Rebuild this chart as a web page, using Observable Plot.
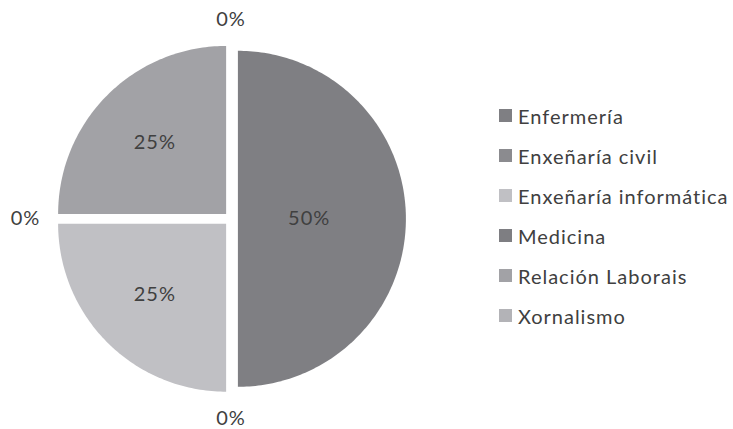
<!DOCTYPE html>
<html>
<head>
<meta charset="utf-8">
<script src="https://cdn.jsdelivr.net/npm/d3@7"></script>
<script src="https://cdn.jsdelivr.net/npm/@observablehq/plot@0.6"></script>
<style>
  html, body { margin: 0; padding: 0; background: #fff; }
  #chart { position: relative; width: 733px; height: 429px; font-family: Lato, "Open Sans", sans-serif; }
  #legend { position: absolute; left: 499px; top: 96px; }
  .item { display: flex; align-items: center; height: 40px; font-size: 20px; letter-spacing: 1px; color: #404040; white-space: nowrap; }
  .sw { width: 13px; height: 13px; margin-right: 6px; flex: none; position: relative; top: -1px; }
</style>
</head>
<body>
<div id="chart"><div id="legend"></div></div>
<script>
// ---- data ----
const categories = ["Enfermería", "Enxeñaría civil", "Enxeñaría informática", "Medicina", "Relación Laborais", "Xornalismo"];
const values = [50, 0, 25, 0, 25, 0];
const labels = ["50%", "0%", "25%", "0%", "25%", "0%"];
const palette = ["#7f7f83", "#8b8b8f", "#c0c0c4", "#7e7e82", "#a2a2a6", "#b3b3b7"];

// ---- layout constants ----
const W = 733, H = 429;
const cx = 230.5, cy = 218.3, R = 168;
const explode = 6.9 / R;     // explosion distance, in radius units
const edgeR = 1.14;          // label edge radius for empty slices
const halfW = 14 / R, halfH = 8 / R; // approx half label box, in radius units
const FONT = "Lato, 'Open Sans', sans-serif";

const rows = categories.map((name, i) => ({name, value: values[i], label: labels[i]}));
const arcs = d3.pie().sort(null).value(d => d.value)(rows);

// polygons for each non-empty slice (unit circle coordinates, y up)
const pts = [];
const labelPts = [];
arcs.forEach(a => {
  const mid = (a.startAngle + a.endAngle) / 2;
  const span = a.endAngle - a.startAngle;
  const s = Math.sin(mid), c = Math.cos(mid);
  if (span > 0) {
    const ox = explode * s, oy = explode * c;
    pts.push({name: a.data.name, x: ox, y: oy});
    const N = Math.max(2, Math.ceil(span / (Math.PI / 180)));
    for (let k = 0; k <= N; k++) {
      const t = a.startAngle + span * k / N;
      pts.push({name: a.data.name, x: ox + Math.sin(t), y: oy + Math.cos(t)});
    }
    pts.push({name: a.data.name, x: ox, y: oy});
    const half = span / 2;
    const rr = 2 * Math.sin(half) / (3 * half); // sector centroid distance
    labelPts.push({label: a.data.label, x: ox + rr * s, y: oy + rr * c});
  } else {
    labelPts.push({label: a.data.label, x: (edgeR + halfW) * s, y: (edgeR + halfH) * c});
  }
});

const plot = Plot.plot({
  width: W,
  height: H,
  margin: 0,
  style: {fontFamily: FONT, background: "#fff", letterSpacing: "1px"},
  x: {domain: [-1, 1], range: [cx - R, cx + R], axis: null},
  y: {domain: [-1, 1], range: [cy + R, cy - R], axis: null},
  color: {domain: categories, range: palette},
  marks: [
    Plot.line(pts, {x: "x", y: "y", z: "name", fill: "name", stroke: "none", curve: "linear"}),
    Plot.text(labelPts, {x: "x", y: "y", text: "label", fill: "#404040", fontSize: 20, fontFamily: FONT})
  ]
});
const chart = document.getElementById("chart");
chart.insertBefore(plot, chart.firstChild);

// legend
const legend = document.getElementById("legend");
categories.forEach((name, i) => {
  const it = document.createElement("div");
  it.className = "item";
  const sw = document.createElement("span");
  sw.className = "sw";
  sw.style.background = plot.scale("color").apply(name);
  const tx = document.createElement("span");
  tx.textContent = name;
  it.appendChild(sw); it.appendChild(tx);
  legend.appendChild(it);
});
</script>
</body>
</html>
